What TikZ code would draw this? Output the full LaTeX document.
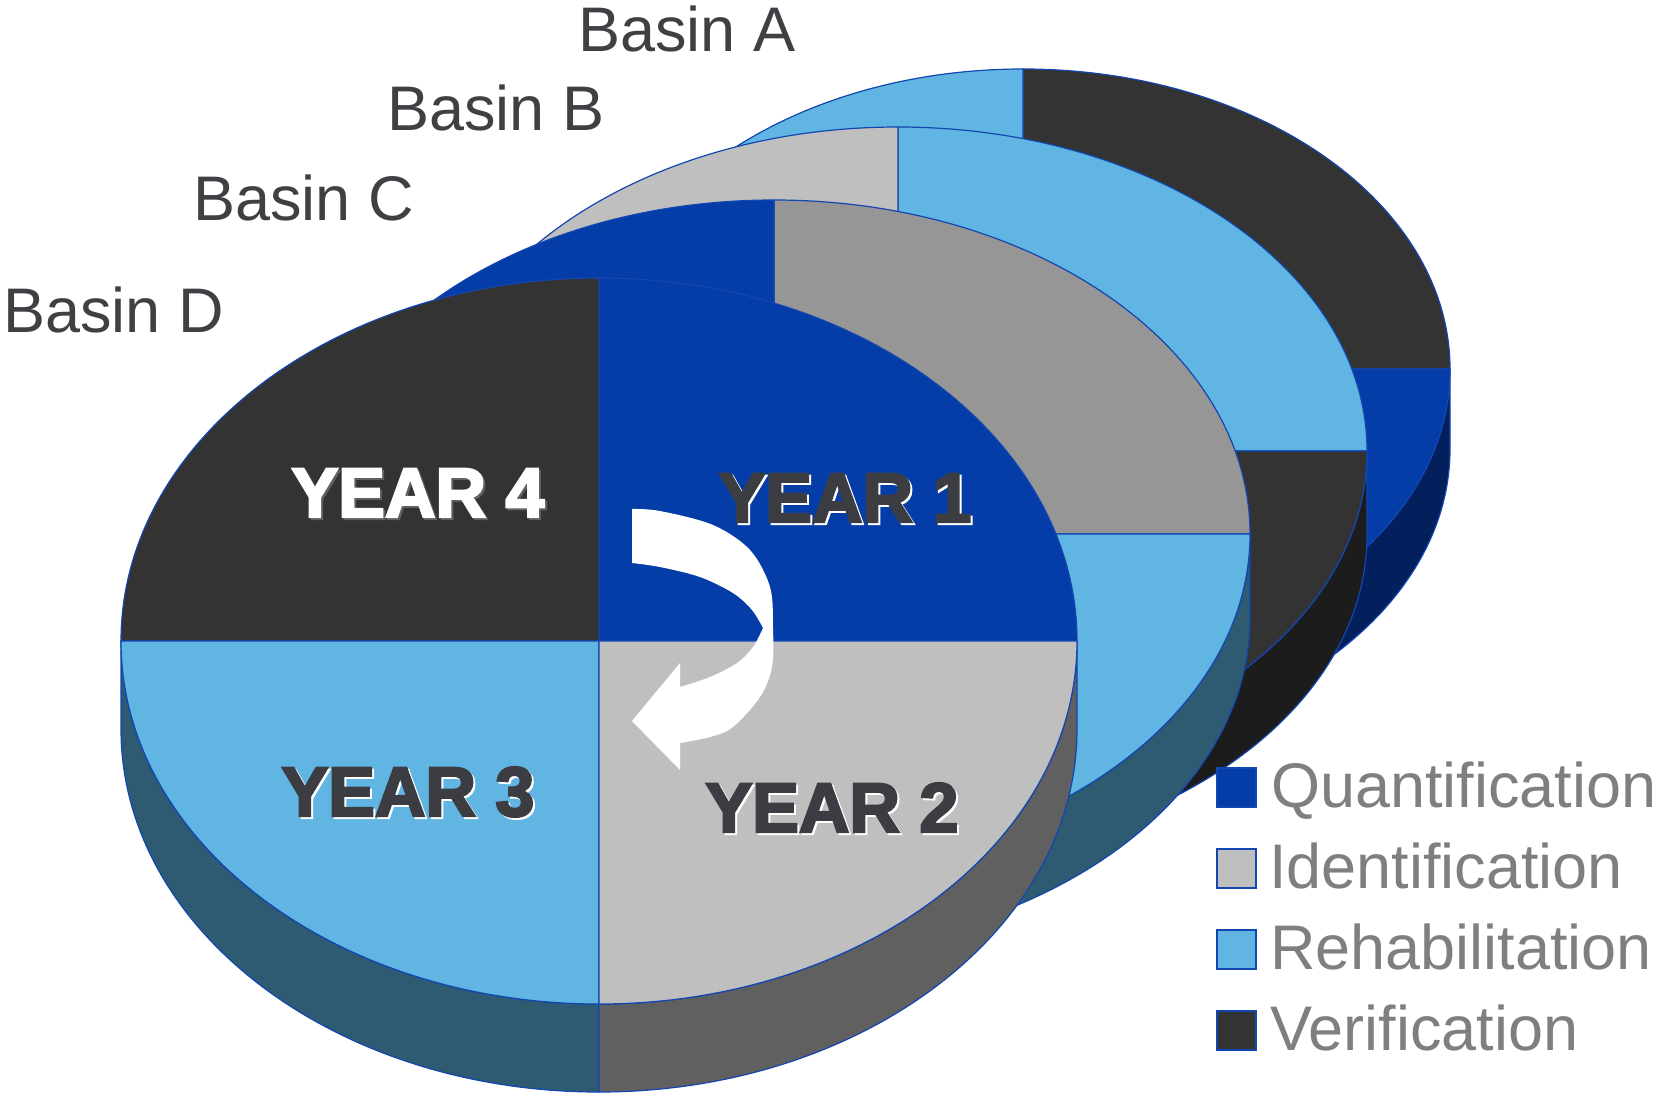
\documentclass[tikz,border=0pt]{standalone}
\usepackage{fontspec}
\setmainfont{Liberation Sans}
\newfontfamily\yearfont[FakeBold=3.5]{Liberation Sans Bold}
\definecolor{cQ}{HTML}{043DA8}
\definecolor{cI}{HTML}{BFBFBF}
\definecolor{cR}{HTML}{61B5E2}
\definecolor{cV}{HTML}{333333}
\definecolor{cM}{HTML}{969696}
\definecolor{cQs}{HTML}{03205C}
\definecolor{cIs}{HTML}{606060}
\definecolor{cRs}{HTML}{2E5B72}
\definecolor{cVs}{HTML}{1C1C1C}
\definecolor{cMs}{HTML}{505050}
\definecolor{cEdge}{HTML}{1246B0}
\definecolor{cLabel}{HTML}{3F3F44}
\definecolor{cLeg}{HTML}{7F7F7F}
\definecolor{cYear}{HTML}{3C3D42}
\tikzset{
  edge/.style={draw=cEdge, line width=1.2pt, line join=round},
  basinlabel/.style={anchor=base west, inner sep=0pt, text=cLabel, font=\fontsize{63}{70}\selectfont},
  legtext/.style={anchor=base west, inner sep=0pt, text=cLeg, font=\fontsize{63}{70}\selectfont},
  legbox/.style={draw=cEdge, line width=1.2pt, minimum size=39pt, inner sep=0pt},
  yearfnt/.style={anchor=base, inner sep=0pt, font=\yearfont\fontsize{70}{72}\selectfont}
}
% #1 cx, #2 cy, #3 rx, #4 ry, #5 thickness, #6 TL, #7 TR, #8 BL, #9 BR
\newcommand\DrawDisc[9]{%
  \filldraw[fill=#8s, edge] (#1,-#2-#4) -- ++(0,-#5) arc[start angle=270,end angle=180,x radius=#3,y radius=#4] -- ++(0,#5) arc[start angle=180,end angle=270,x radius=#3,y radius=#4] -- cycle;
  \filldraw[fill=#9s, edge] (#1+#3,-#2) -- ++(0,-#5) arc[start angle=0,end angle=-90,x radius=#3,y radius=#4] -- ++(0,#5) arc[start angle=270,end angle=360,x radius=#3,y radius=#4] -- cycle;
  \filldraw[fill=#7, edge] (#1,-#2) -- ++(#3,0) arc[start angle=0,end angle=90,x radius=#3,y radius=#4] -- cycle;
  \filldraw[fill=#6, edge] (#1,-#2) -- ++(0,#4) arc[start angle=90,end angle=180,x radius=#3,y radius=#4] -- cycle;
  \filldraw[fill=#8, edge] (#1,-#2) -- ++(-#3,0) arc[start angle=180,end angle=270,x radius=#3,y radius=#4] -- cycle;
  \filldraw[fill=#9, edge] (#1,-#2) -- ++(0,-#4) arc[start angle=270,end angle=360,x radius=#3,y radius=#4] -- cycle;
}
\begin{document}
\begin{tikzpicture}[x=1pt,y=1pt]
\useasboundingbox (0,0) rectangle (1662,-1095);
% discs, back to front
\DrawDisc{1023}{369}{427}{300}{80}{cR}{cV}{cI}{cQ}
\DrawDisc{898}{451}{469}{324}{84}{cI}{cR}{cQ}{cV}
\DrawDisc{774}{534}{476}{334}{84}{cQ}{cM}{cV}{cR}
\DrawDisc{599}{641}{478}{363}{88}{cV}{cQ}{cR}{cI}
% basin labels
\node[basinlabel] (basinA) at (578,-51) {Basin A};
\node[basinlabel] (basinB) at (387,-130) {Basin B};
\node[basinlabel] (basinC) at (193,-220) {Basin C};
\node[basinlabel] (basinD) at (3,-332) {Basin D};
% curved arrow
\fill[white] plot[smooth,tension=0.55] coordinates {(632,-509) (660,-511) (713,-525) (750,-550) (770,-587) (773,-627) (772,-667) (760,-697) (733,-727) (710,-737) (680,-743)}
  -- (680,-770) -- (632,-721) -- (680,-663)
  -- plot[smooth,tension=0.55] coordinates {(680,-687) (710,-677) (737,-663) (753,-647) (763,-628)}
  -- plot[smooth,tension=0.55] coordinates {(763,-628) (752,-610) (733,-593) (700,-577) (660,-567) (632,-563)}
  -- cycle;
% year labels
\node[yearfnt, text=cIs] (y4s) at (420,-519) {YEAR 4};
\node[yearfnt, text=white] (y4) at (418,-517) {YEAR 4};
\node[yearfnt, text=white] (y1s) at (847,-524) {YEAR 1};
\node[yearfnt, text=cYear] (y1) at (845,-522) {YEAR 1};
\node[yearfnt, text=white] (y3s) at (410,-818) {YEAR 3};
\node[yearfnt, text=cYear] (y3) at (408,-816) {YEAR 3};
\node[yearfnt, text=white] (y2s) at (834,-834) {YEAR 2};
\node[yearfnt, text=cYear] (y2) at (832,-832) {YEAR 2};
% legend
\node[legbox, fill=cQ] (kQ) at (1236.5,-787.5) {};
\node[legbox, fill=cI] (kI) at (1236.5,-868.5) {};
\node[legbox, fill=cR] (kR) at (1236.5,-949.5) {};
\node[legbox, fill=cV] (kV) at (1236.5,-1030.5) {};
\node[legtext] (tQ) at (1271,-807) {Quantification};
\node[legtext] (tI) at (1269,-888) {Identification};
\node[legtext] (tR) at (1270,-969) {Rehabilitation};
\node[legtext] (tV) at (1270,-1050) {Verification};
\end{tikzpicture}
\end{document}
